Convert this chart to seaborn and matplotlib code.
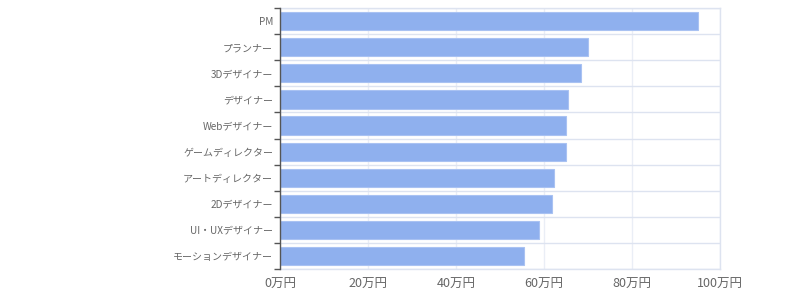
import matplotlib
matplotlib.use("Agg")
import matplotlib.pyplot as plt
import seaborn as sns
import pandas as pd
import numpy as np

categories = ["PM", "プランナー", "3Dデザイナー", "デザイナー", "Webデザイナー",
              "ゲームディレクター", "アートディレクター", "2Dデザイナー",
              "UI・UXデザイナー", "モーションデザイナー"]
values = [95, 70, 68.5, 65.5, 65, 65, 62.2, 61.8, 58.9, 55.4]
xticks = [0, 20, 40, 60, 80, 100]
xticklabels = ["0万円", "20万円", "40万円", "60万円", "80万円", "100万円"]

sns.set_theme(style="white")
plt.rcParams['font.family'] = ['Noto Sans CJK JP', 'DejaVu Sans']

df = pd.DataFrame({"cat": categories, "val": values})

fig = plt.figure(figsize=(8, 3), dpi=100)
ax = fig.add_axes([0.35, 0.103, 0.55, 0.870])

sns.barplot(data=df, y="cat", x="val", orient="h", color="#8fb0ee",
            width=0.7, saturation=1, edgecolor="#a9c2f2", linewidth=0.8, ax=ax, zorder=3)

ax.set_xlim(0, 100)
ax.set_ylim(len(categories) - 0.5, -0.5)
ax.set_xticks(xticks)
ax.set_xticklabels(xticklabels, fontsize=9, color="#666666")
ax.set_yticks(range(len(categories)))
ax.set_yticklabels(categories, fontsize=7.2, color="#666666")
ax.set_yticks(np.arange(-0.5, len(categories), 1.0), minor=True)
ax.tick_params(axis="y", which="major", length=0, pad=5)
ax.tick_params(axis="y", which="minor", length=4, width=1, color="#555555", direction="out", left=True)
ax.tick_params(axis="x", which="major", length=0, pad=6)
ax.set_xlabel("")
ax.set_ylabel("")

ax.grid(False)
ax.xaxis.grid(True, color="#dde3f0", linewidth=1, zorder=0)
ax.yaxis.grid(True, which="minor", color="#dde3f0", linewidth=1, zorder=0)
ax.set_axisbelow(False)
for g in ax.get_xgridlines():
    g.set_zorder(4)
    g.set_alpha(0.6)

for side in ["top", "right", "bottom"]:
    ax.spines[side].set_color("#dde3f0")
    ax.spines[side].set_linewidth(1)
ax.spines["left"].set_color("#555555")
ax.spines["left"].set_linewidth(1)
ax.spines["left"].set_zorder(5)

fig.savefig("out.png", dpi=100)
